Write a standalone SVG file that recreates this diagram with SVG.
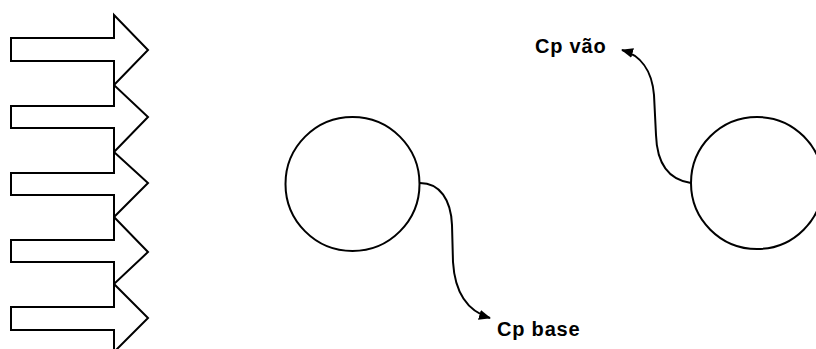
<svg xmlns="http://www.w3.org/2000/svg" width="816" height="349" viewBox="0 0 816 349">
  <defs>
    <style>
      .shape { fill: none; stroke: #000; stroke-width: 2; stroke-linejoin: miter; }
      .link { fill: none; stroke: #000; stroke-width: 2; }
      .label { font-family: "Liberation Sans", Arial, sans-serif; font-weight: bold; font-size: 20px; letter-spacing: 0.8px; fill: #000; }
    </style>
    <marker id="head" viewBox="0 0 12 10" refX="11" refY="5" markerWidth="12" markerHeight="10" markerUnits="userSpaceOnUse" orient="auto">
      <path d="M0,0 L12,5 L0,10 Z" fill="#000"/>
    </marker>
  </defs>
  <rect width="816" height="349" fill="#fff"/>

  <!-- wind arrows -->
  <g id="wind-arrows">
    <path class="shape" d="M11,38 H114 V15 L148,50 L114,85 V61 H11 Z"/>
    <path class="shape" d="M11,106 H114 V85 L148,117 L114,152 V128 H11 Z"/>
    <path class="shape" d="M11,173 H114 V152 L148,183 L114,217 V195 H11 Z"/>
    <path class="shape" d="M11,240 H114 V217 L148,252 L114,284 V262 H11 Z"/>
    <path class="shape" d="M11,307 H114 V284 L148,318 L114,352 V330 H11 Z"/>
  </g>

  <!-- base section -->
  <g id="section-base">
    <circle class="shape" cx="352.5" cy="184" r="67"/>
  </g>

  <!-- span section -->
  <g id="section-span">
    <circle class="shape" cx="757" cy="183" r="66"/>
  </g>

  <!-- pressure coefficient leaders -->
  <g id="connectors">
    <path class="link" marker-end="url(#head)" d="M420,183 C440,183 451,200 452,225 L453,262 C455,295 470,312 490,318"/>
    <path class="link" marker-end="url(#head)" d="M691,183 C670,180 657,165 656,135 L654,95 C652,70 640,55 622,50"/>
  </g>

  <g id="label-base">
    <text class="label" x="497" y="336">Cp base</text>
  </g>
  <g id="label-span">
    <text class="label" x="535" y="53">Cp vão</text>
  </g>
</svg>
